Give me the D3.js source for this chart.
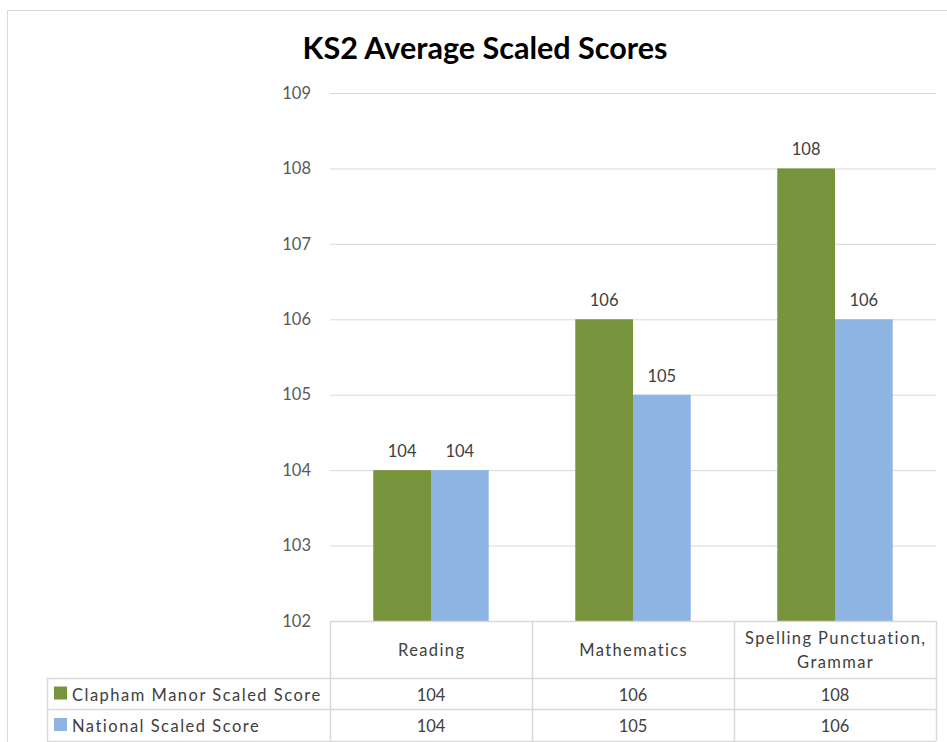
<!DOCTYPE html>
<html>
<head>
<meta charset="utf-8">
<script src="https://cdn.jsdelivr.net/npm/d3@7"></script>
<style>
  html, body { margin: 0; padding: 0; background: #fff; }
  svg { display: block; }
  text { font-family: Lato, "Open Sans", sans-serif; }
</style>
</head>
<body>
<svg id="chart" width="947" height="742"></svg>
<script>
const categories = ["Reading", "Mathematics", "Spelling Punctuation, Grammar"];
const categoryLines = [["Reading"], ["Mathematics"], ["Spelling Punctuation,", "Grammar"]];
const seriesNames = ["Clapham Manor Scaled Score", "National Scaled Score"];
const claphamValues = [104, 106, 108];
const nationalValues = [104, 105, 106];
const yTicks = [102, 103, 104, 105, 106, 107, 108, 109];
const colors = ["#77933C", "#8EB4E3"];

const series = [claphamValues, nationalValues];

const svg = d3.select("#chart");

// outer chart border
svg.append("rect").attr("x", 7.5).attr("y", 10.5).attr("width", 960).attr("height", 760)
  .attr("fill", "none").attr("stroke", "#d9d9d9").attr("stroke-width", 1);

const plotLeft = 330, plotRight = 936, plotTop = 93, plotBottom = 621;

const y = d3.scaleLinear().domain([102, 109]).range([plotBottom, plotTop]);
const x = d3.scaleBand().domain(categories).range([plotLeft, plotRight]).paddingInner(0).paddingOuter(0);
const bw = x.bandwidth() / 3.5;
const xs = d3.scaleBand().domain(seriesNames).range([0.75 * bw, 2.75 * bw]).padding(0);

// gridlines
const grid = svg.append("g").attr("transform", `translate(${plotLeft},0)`)
  .call(d3.axisLeft(y).tickValues(yTicks).tickSize(-(plotRight - plotLeft)).tickFormat(""));
grid.select(".domain").remove();
grid.selectAll(".tick line").attr("stroke", "#d9d9d9").attr("stroke-width", 1);

// y axis labels
const yAxis = svg.append("g").attr("transform", `translate(311,0)`)
  .call(d3.axisLeft(y).tickValues(yTicks).tickSize(0).tickPadding(0).tickFormat(d3.format("d")));
yAxis.select(".domain").remove();
yAxis.selectAll(".tick text").attr("fill", "#595959").style("font-size", "16.5px")
  .style("font-family", "Lato, sans-serif");

// bars
const groups = svg.append("g").selectAll("g").data(categories).join("g")
  .attr("transform", d => `translate(${x(d)},0)`);
seriesNames.forEach((s, si) => {
  groups.append("rect")
    .attr("x", xs(s))
    .attr("width", xs.bandwidth())
    .attr("y", (d, i) => y(series[si][i]))
    .attr("height", (d, i) => y(102) - y(series[si][i]))
    .attr("fill", colors[si]);
  groups.append("text")
    .attr("x", xs(s) + xs.bandwidth() / 2)
    .attr("y", (d, i) => y(series[si][i]) - 13)
    .attr("text-anchor", "middle")
    .attr("fill", "#404040")
    .style("font-size", "16.5px")
    .text((d, i) => series[si][i]);
});

// title
const title = svg.append("text").attr("x", 485).attr("y", 59).attr("text-anchor", "middle")
  .attr("fill", "#000").style("font-size", "26px").style("font-weight", "bold")
  .text("KS2 Average Scaled Scores");
const tl = title.node().getComputedTextLength();
if (tl > 0) title.style("font-size", (26 * 365 / tl).toFixed(2) + "px");

// data table
const tableLeft = 47, headerTop = 621, headerBottom = 678, row1Bottom = 709, row2Bottom = 741;
const lineColor = "#d9d9d9";
const tg = svg.append("g");
function hline(x1, x2, yy) {
  tg.append("line").attr("x1", x1).attr("x2", x2).attr("y1", yy + 0.5).attr("y2", yy + 0.5)
    .attr("stroke", lineColor).attr("stroke-width", 1.5);
}
function vline(xx, y1, y2) {
  tg.append("line").attr("x1", xx + 0.5).attr("x2", xx + 0.5).attr("y1", y1).attr("y2", y2)
    .attr("stroke", lineColor).attr("stroke-width", 1.5);
}
hline(plotLeft, plotRight, headerTop);
hline(tableLeft, plotRight, headerBottom);
hline(tableLeft, plotRight, row1Bottom);
hline(tableLeft, plotRight, row2Bottom);
vline(tableLeft, headerBottom, row2Bottom);
categories.forEach(c => vline(x(c), headerTop, row2Bottom));
vline(plotRight, headerTop, row2Bottom);

// header text
categories.forEach((c, i) => {
  const lines = categoryLines[i];
  const cy = (headerTop + headerBottom) / 2;
  const lh = 24;
  lines.forEach((ln, li) => {
    tg.append("text")
      .attr("x", x(c) + x.bandwidth() / 2 + 0.7)
      .attr("y", cy + (li - (lines.length - 1) / 2) * lh + 6)
      .attr("text-anchor", "middle").attr("fill", "#404040")
      .style("font-size", "16.5px").style("letter-spacing", "1.4px").text(ln);
  });
});

// rows
const rowCenters = [(headerBottom + row1Bottom) / 2, (row1Bottom + row2Bottom) / 2];
seriesNames.forEach((s, si) => {
  const cy = rowCenters[si];
  tg.append("rect").attr("x", 54).attr("y", cy - 7).attr("width", 13).attr("height", 13)
    .attr("fill", colors[si]);
  tg.append("text").attr("x", 72).attr("y", cy + 7).attr("fill", "#404040")
    .style("font-size", "16.5px").style("letter-spacing", "1.5px").text(s);
  categories.forEach((c, i) => {
    tg.append("text").attr("x", x(c) + x.bandwidth() / 2).attr("y", cy + 7)
      .attr("text-anchor", "middle").attr("fill", "#404040")
      .style("font-size", "16.5px").text(series[si][i]);
  });
});
</script>
</body>
</html>
